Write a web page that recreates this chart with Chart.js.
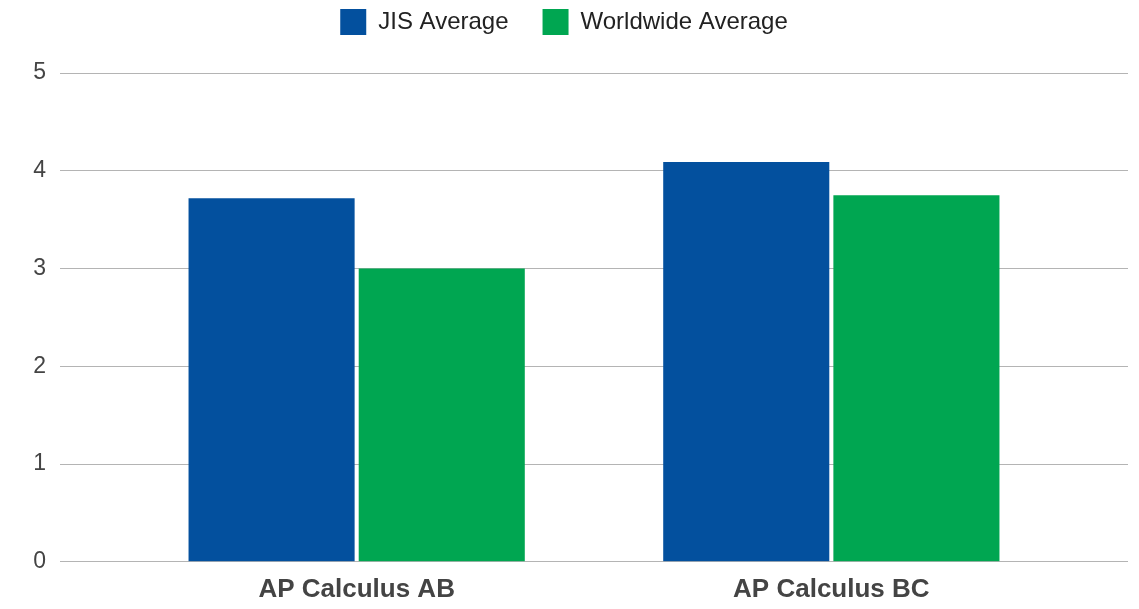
<!DOCTYPE html>
<html>
<head>
<meta charset="utf-8">
<script src="https://cdn.jsdelivr.net/npm/chart.js@4/dist/chart.umd.min.js"></script>
<style>
  html, body { margin: 0; padding: 0; background: #fff; }
  #wrap { width: 1139px; height: 609px; }
</style>
</head>
<body>
<div id="wrap"><canvas id="chart" width="1139" height="609"></canvas></div>
<script>
const categories = ['AP Calculus AB', 'AP Calculus BC'];
const jisValues = [3.72, 4.09];
const worldValues = [3.0, 3.75];
const yTicks = [0, 1, 2, 3, 4, 5];

// x is linear so the two groups sit closer to the middle, like the original
const toPoints = (vals) => vals.map((v, i) => ({ x: i, y: v }));

const data = {
  datasets: [
    {
      label: 'JIS Average',
      data: toPoints(jisValues),
      backgroundColor: '#03509e',
      categoryPercentage: 0.717,
      barPercentage: 0.976
    },
    {
      label: 'Worldwide Average',
      data: toPoints(worldValues),
      backgroundColor: '#00a651',
      categoryPercentage: 0.717,
      barPercentage: 0.976
    }
  ]
};

// extra room under the legend
const legendGap = {
  id: 'legendGap',
  beforeInit(chart) {
    const fit = chart.legend.fit;
    chart.legend.fit = function () {
      fit.bind(chart.legend)();
      this.height += 28;
    };
  }
};

const config = {
  type: 'bar',
  data: data,
  plugins: [legendGap],
  options: {
    responsive: false,
    animation: false,
    layout: { padding: { left: 0, right: 11, top: -25, bottom: 0 } },
    plugins: {
      tooltip: { enabled: false },
      legend: {
        position: 'top',
        labels: {
          boxWidth: 26,
          boxHeight: 26,
          padding: 34,
          color: '#222',
          font: { family: 'Liberation Sans', size: 24 }
        }
      }
    },
    scales: {
      x: {
        type: 'linear',
        offset: false,
        min: -0.625,
        max: 1.625,
        grid: { display: false },
        border: { display: false },
        afterBuildTicks: (scale) => {
          scale.ticks = categories.map((c, i) => ({ value: i }));
        },
        ticks: {
          color: '#444',
          padding: 4,
          font: { family: 'Liberation Sans', size: 26, weight: 'bold' },
          callback: (v) => categories[v]
        }
      },
      y: {
        min: 0,
        max: 5,
        afterBuildTicks: (scale) => {
          scale.ticks = yTicks.map((v) => ({ value: v }));
        },
        afterFit: (scale) => { scale.width = 60; },
        grid: { color: '#b4b4b4', lineWidth: 1, drawTicks: false },
        border: { display: false },
        ticks: {
          color: '#444',
          padding: 14,
          font: { family: 'Liberation Sans', size: 23 }
        }
      }
    }
  }
};

new Chart(document.querySelector('#chart'), config);
</script>
</body>
</html>
